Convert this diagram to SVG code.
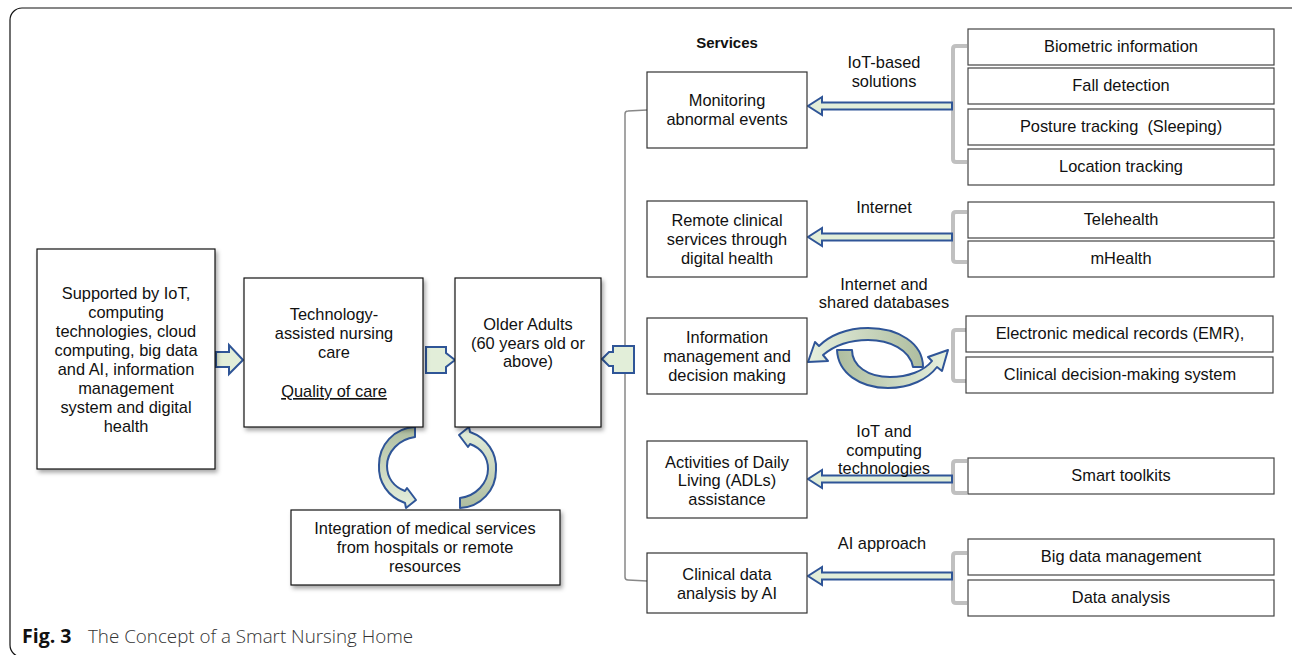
<svg xmlns="http://www.w3.org/2000/svg" width="1292" height="655" viewBox="0 0 1292 655">
<defs>
<filter id="sh" x="-10%" y="-10%" width="130%" height="130%">
<feDropShadow dx="2" dy="3" stdDeviation="2" flood-color="#000" flood-opacity="0.35"/>
</filter>
<linearGradient id="gv" x1="0" y1="0" x2="0" y2="1">
<stop offset="0" stop-color="#aebd9f"/>
<stop offset="1" stop-color="#e6f0de"/>
</linearGradient>
<linearGradient id="ghL" x1="0" y1="0" x2="1" y2="0">
<stop offset="0" stop-color="#e6f0de"/>
<stop offset="1" stop-color="#aebd9f"/>
</linearGradient>
<linearGradient id="ghR" x1="0" y1="0" x2="1" y2="0">
<stop offset="0" stop-color="#aebd9f"/>
<stop offset="1" stop-color="#e6f0de"/>
</linearGradient>
</defs>
<style>
text{font-family:"Liberation Sans",Arial,sans-serif;font-size:16.4px;fill:#111;text-anchor:middle}
.bx{fill:#fff;stroke:#111;stroke-width:1.2}
.sv{fill:#fff;stroke:#333;stroke-width:1.2}
.rb{fill:#fff;stroke:#444;stroke-width:1.2}
.ba{fill:#e2eed9;stroke:#2f5597;stroke-width:2;stroke-linejoin:miter}
.br{fill:none;stroke:#c0c0c0;stroke-width:4}
.ln{fill:none;stroke:#888;stroke-width:1.5}
.ca{stroke:#2f5597;stroke-width:2;stroke-linejoin:round}
</style>
<rect width="1292" height="655" fill="#fff"/>
<rect x="10" y="8" width="1300" height="649" rx="12" fill="none" stroke="#111" stroke-width="1.2"/>

<g id="connectors">
<path class="ln" d="M647,110 L628,111 Q625,111 625,114 L625,577 Q625,580 628,580 L647,581"/>
<path class="br" d="M967,46 L956,46 Q953,46 953,49 L953,159 Q953,162 956,162 L967,162"/>
<path class="br" d="M967,212 L956,212 Q953,212 953,215 L953,259 Q953,262 956,262 L967,262"/>
<path class="br" d="M967,330 L956,330 Q953,330 953,333 L953,378 Q953,381 956,381 L967,381"/>
<path class="br" d="M967,461 L956,461 Q953,461 953,464 L953,490 Q953,493 956,493 L967,493"/>
<path class="br" d="M967,553 L956,553 Q953,553 953,556 L953,600 Q953,603 956,603 L967,603"/>
<polygon class="ba" points="216,352 229,352 229,345 243,360 229,374 229,367 216,367"/>
<polygon class="ba" points="426,347 446,347 446,353 455,360 446,367 446,373 426,373"/>
<polygon class="ba" points="634,346 613,346 613,352 609,352 602,359 609,366 613,366 613,373 634,373"/>
<polygon class="ba" points="952,102.5 822,102.5 822,97 808,106 822,115 822,109.5 952,109.5"/>
<polygon class="ba" points="952,233.5 822,233.5 822,228 808,237 822,246 822,240.5 952,240.5"/>
<polygon class="ba" points="952,475.5 822,475.5 822,470 808,479 822,488 822,482.5 952,482.5"/>
<polygon class="ba" points="952,572.5 822,572.5 822,567 808,576 822,585 822,579.5 952,579.5"/>
<path class="ca" fill="url(#gv)" d="M415,427 L415,437 C399,439 387,452 387,466 C387,478 394,487 405,491 L407,488 L416,500 L406,508 L405,503 C388,497 378,482 379,465 C379,445 394,428 415,427 Z"/>
<path class="ca" fill="url(#gv)" transform="rotate(180 437.5 467.5)" d="M415,427 L415,437 C399,439 387,452 387,466 C387,478 394,487 405,491 L407,488 L416,500 L406,508 L405,503 C388,497 378,482 379,465 C379,445 394,428 415,427 Z"/>
<path class="ca" fill="url(#ghL)" d="M923,367 C923,343 898,328 868,328 C846,328 829,336 819,346 L815,342 L808,362 L828,361 L823,355 C835,345 851,340 868,340 C890,340 910,350 913,367 Z"/>
<path class="ca" fill="url(#ghR)" d="M837,350 C838,373 860,388 888,388 C910,388 928,379 937,367 L942,371 L948,350 L928,357 L932,361 C924,371 908,377 890,377 C868,377 852,366 852,350 Z"/>
</g>

<text x="727" y="48" style="font-weight:bold;font-size:15px">Services</text>

<g id="n-support"><rect class="bx" x="37" y="249" width="178" height="220" filter="url(#sh)"/>
<text x="126" y="299">Supported by IoT,</text><text x="126" y="318">computing</text><text x="126" y="337">technologies, cloud</text><text x="126" y="356">computing, big data</text><text x="126" y="375">and AI, information</text><text x="126" y="394">management</text><text x="126" y="413">system and digital</text><text x="126" y="432">health</text></g>

<g id="n-tech"><rect class="bx" x="244" y="278" width="179" height="149" filter="url(#sh)"/>
<text x="334" y="320">Technology-</text><text x="334" y="339">assisted nursing</text><text x="334" y="358">care</text><text x="334" y="397" text-decoration="underline">Quality of care</text></g>

<g id="n-older"><rect class="bx" x="455" y="278" width="146" height="149" filter="url(#sh)"/>
<text x="528" y="330">Older Adults</text><text x="528" y="349">(60 years old or</text><text x="528" y="367">above)</text></g>

<g id="n-integration"><rect class="bx" x="291" y="510" width="269" height="75" filter="url(#sh)"/>
<text x="425" y="534">Integration of medical services</text><text x="425" y="553">from hospitals or remote</text><text x="425" y="572">resources</text></g>

<g id="s-monitor"><rect class="sv" x="647" y="72" width="160" height="76"/>
<text x="727" y="106">Monitoring</text><text x="727" y="125">abnormal events</text></g>
<g id="s-remote"><rect class="sv" x="647" y="201" width="160" height="76"/>
<text x="727" y="226">Remote clinical</text><text x="727" y="245">services through</text><text x="727" y="264">digital health</text></g>
<g id="s-info"><rect class="sv" x="647" y="318" width="160" height="76"/>
<text x="727" y="343">Information</text><text x="727" y="362">management and</text><text x="727" y="381">decision making</text></g>
<g id="s-adl"><rect class="sv" x="647" y="441" width="160" height="77"/>
<text x="727" y="468">Activities of Daily</text><text x="727" y="486">Living (ADLs)</text><text x="727" y="505">assistance</text></g>
<g id="s-clinical"><rect class="sv" x="647" y="553" width="160" height="60"/>
<text x="727" y="580">Clinical data</text><text x="727" y="599">analysis by AI</text></g>

<g id="labels">
<text x="884" y="68">IoT-based</text><text x="884" y="87">solutions</text>
<text x="884" y="213">Internet</text>
<text x="884" y="290">Internet and</text><text x="884" y="308">shared databases</text>
<text x="884" y="437">IoT and</text><text x="884" y="456">computing</text><text x="884" y="474">technologies</text>
<text x="882" y="549">AI approach</text>
</g>

<g id="r-bio"><rect class="rb" x="968" y="29" width="306" height="36"/><text x="1121" y="52">Biometric information</text></g>
<g id="r-fall"><rect class="rb" x="968" y="68" width="306" height="36"/><text x="1121" y="91">Fall detection</text></g>
<g id="r-posture"><rect class="rb" x="968" y="109" width="306" height="36"/><text x="1121" y="132" xml:space="preserve">Posture tracking  (Sleeping)</text></g>
<g id="r-location"><rect class="rb" x="968" y="149" width="306" height="36"/><text x="1121" y="172">Location tracking</text></g>
<g id="r-tele"><rect class="rb" x="968" y="202" width="306" height="36"/><text x="1121" y="225">Telehealth</text></g>
<g id="r-mhealth"><rect class="rb" x="968" y="241" width="306" height="36"/><text x="1121" y="264">mHealth</text></g>
<g id="r-emr"><rect class="rb" x="966" y="316" width="307" height="36"/><text x="1120" y="339">Electronic medical records (EMR),</text></g>
<g id="r-cds"><rect class="rb" x="966" y="357" width="307" height="36"/><text x="1120" y="380">Clinical decision-making system</text></g>
<g id="r-smart"><rect class="rb" x="968" y="458" width="306" height="36"/><text x="1121" y="481">Smart toolkits</text></g>
<g id="r-bigdata"><rect class="rb" x="968" y="539" width="306" height="36"/><text x="1121" y="562">Big data management</text></g>
<g id="r-analysis"><rect class="rb" x="968" y="580" width="306" height="36"/><text x="1121" y="603">Data analysis</text></g>

<g id="caption">
<text x="22" y="643" style="text-anchor:start;font-size:19.5px;font-weight:bold;font-family:'Open Sans','Liberation Sans',sans-serif">Fig. 3</text>
<text x="88" y="643" style="text-anchor:start;font-size:18.8px;font-weight:300;fill:#333;font-family:'Open Sans','Liberation Sans',sans-serif">The Concept of a Smart Nursing Home</text>
</g>
</svg>
